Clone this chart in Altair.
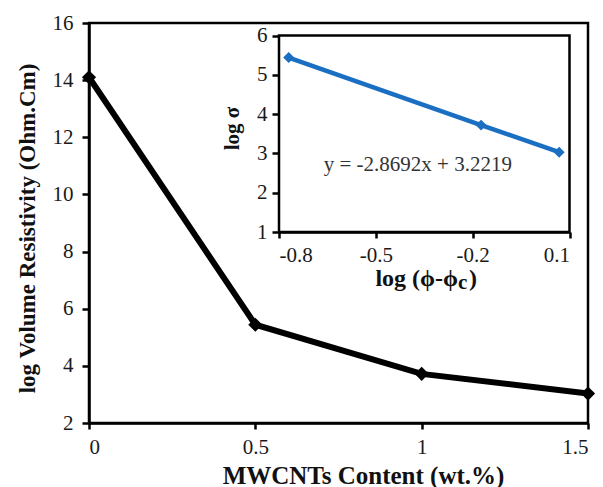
import altair as alt
import pandas as pd

# Main series: volume resistivity vs MWCNT loading
content = [0.0, 0.5, 1.0, 1.5]
log_resistivity = [14.1, 5.44, 3.72, 3.03]
content_ticks = [0, 0.5, 1, 1.5]
resistivity_ticks = [2, 4, 6, 8, 10, 12, 14, 16]

# Inset: percolation power-law fit
log_phi = [-0.770, -0.174, 0.068]
log_sigma = [5.44, 3.72, 3.03]
phi_ticks = [-0.8, -0.5, -0.2, 0.1]
sigma_ticks = [1, 2, 3, 4, 5, 6]
fit_text = "y = -2.8692x + 3.2219"

FONT = "Times New Roman, Liberation Serif, serif"
BLUE = "#1b6fc2"

main_df = pd.DataFrame({"content": content, "rho": log_resistivity})
inset_df = pd.DataFrame({"lp": log_phi, "ls": log_sigma})
frame_df = pd.DataFrame({"lp": [phi_ticks[0]], "lp2": [phi_ticks[-1]],
                         "ls": [sigma_ticks[0]], "ls2": [sigma_ticks[-1]]})
fit_df = pd.DataFrame({"lp": [-0.37], "ls": [2.71], "t": [fit_text]})

W, H = 499, 400

mx = alt.X("content:Q",
           scale=alt.Scale(domain=[0, 1.5], nice=False, zero=False),
           axis=alt.Axis(values=content_ticks, format="~g", title="MWCNTs Content (wt.%)",
                         grid=False, domainColor="black", domainWidth=2.5,
                         tickColor="black", tickWidth=2.5, tickSize=6,
                         labelFont=FONT, labelFontSize=21, labelColor="#1a1a1a", labelPadding=7,
                         titleFont=FONT, titleFontSize=25, titleFontWeight="bold", titleColor="#111111",
                         titleX=274, titleY=60, titleBaseline="alphabetic", titleAnchor="middle"))
my = alt.Y("rho:Q",
           scale=alt.Scale(domain=[2, 16], nice=False, zero=False),
           axis=alt.Axis(values=resistivity_ticks, title="log Volume Resistivity (Ohm.Cm)",
                         grid=False, domainColor="black", domainWidth=2.5,
                         tickColor="black", tickWidth=2.5, tickSize=7,
                         labelFont=FONT, labelFontSize=21, labelColor="#1a1a1a", labelPadding=9,
                         titleFont=FONT, titleFontSize=23, titleFontWeight="bold", titleColor="#111111",
                         titleX=-62, titleY=205, titleBaseline="middle", titleAngle=-90))

main_line = alt.Chart(main_df).mark_line(color="black", strokeWidth=6).encode(x=mx, y=my)
main_pts = alt.Chart(main_df).mark_point(shape="diamond", filled=True, size=200,
                                         color="black", opacity=1).encode(x=mx, y=my)
main = alt.layer(main_line, main_pts)

ix = alt.X("lp:Q",
           scale=alt.Scale(domain=[-0.8, 0.1], range=[190, 480.5], nice=False, zero=False),
           axis=alt.Axis(orient="bottom", offset=-191, values=phi_ticks, title=None,
                         labelExpr="replace(format(datum.value, '.1f'), '\u2212', '-')",
                         grid=False, domainColor="black", domainWidth=2.5,
                         tickColor="black", tickWidth=2.5, tickSize=6,
                         labelFont=FONT, labelFontSize=21, labelColor="#1a1a1a", labelPadding=6))
iy = alt.Y("ls:Q",
           scale=alt.Scale(domain=[1, 6], range=[209, 12.5], nice=False, zero=False),
           axis=alt.Axis(orient="left", offset=-190, values=sigma_ticks, title="log σ",
                         grid=False, domainColor="black", domainWidth=2.5,
                         tickColor="black", tickWidth=2.5, tickSize=7,
                         labelFont=FONT, labelFontSize=21, labelColor="#1a1a1a", labelPadding=5,
                         titleFont=FONT, titleFontSize=21, titleFontWeight="bold", titleColor="#111111",
                         titleX=-47, titleY=105, titleBaseline="middle", titleAngle=-90))

frame = alt.Chart(frame_df).mark_rect(fill="white", stroke="black", strokeWidth=2.5).encode(
    x=ix, x2="lp2:Q", y=iy, y2="ls2:Q")
inset_line = alt.Chart(inset_df).mark_line(color=BLUE, strokeWidth=4.5).encode(x=ix, y=iy)
inset_pts = alt.Chart(inset_df).mark_point(shape="diamond", filled=True, size=120,
                                           color=BLUE, opacity=1).encode(x=ix, y=iy)
fit_label = alt.Chart(fit_df).mark_text(font=FONT, fontSize=21, color="#333333",
                                        align="center", baseline="middle").encode(
    x=ix, y=iy, text="t:N")

# inset x title with subscript c
title_a = alt.Chart(fit_df).mark_text(font=FONT, fontSize=24, fontWeight="bold", color="#111111",
                                      align="right", baseline="alphabetic", text="log (ϕ-ϕ").encode(
    x=alt.value(369), y=alt.value(263))
title_b = alt.Chart(fit_df).mark_text(font=FONT, fontSize=21, fontWeight="bold", color="#111111",
                                      align="left", baseline="alphabetic", text="c").encode(
    x=alt.value(369), y=alt.value(266))
title_c = alt.Chart(fit_df).mark_text(font=FONT, fontSize=24, fontWeight="bold", color="#111111",
                                      align="left", baseline="alphabetic", text=")").encode(
    x=alt.value(380), y=alt.value(263))

inset = alt.layer(frame, inset_line, inset_pts, fit_label)

chart = alt.layer(main, inset, title_a, title_b, title_c).resolve_scale(
    x="independent", y="independent"
).properties(
    width=W, height=H,
    autosize=alt.AutoSizeParams(type="none"),
    padding={"left": 89, "top": 23, "right": 603 - 89 - W, "bottom": 487 - 23 - H},
    background="white",
).configure_view(stroke="black", strokeWidth=2.5)

chart.save("out.html", embed_options={"renderer": "svg", "actions": False})
